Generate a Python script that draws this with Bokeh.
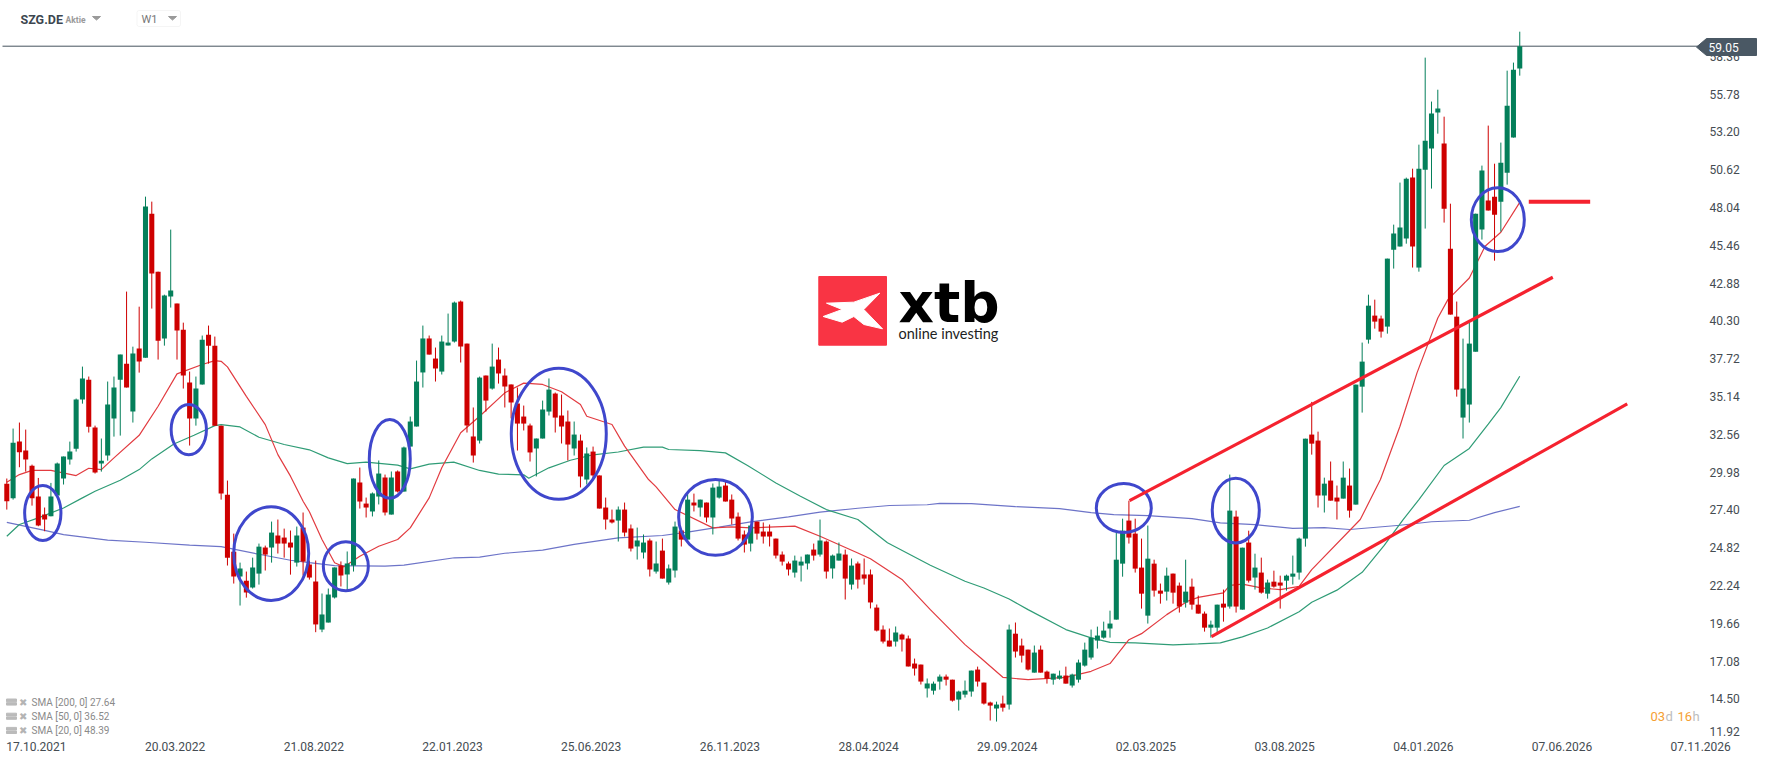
# SZG.DE weekly candles with SMA 20/50/200 and hand drawn chart marks
from bokeh.plotting import figure
from bokeh.core.properties import value
from bokeh.embed import file_html
from bokeh.models import ColumnDataSource, FixedTicker, Label, BoxAnnotation
from bokeh.resources import INLINE
import pandas as pd

# weekly prices
opens = [
    29.19, 28.19, 32.06, 31.45, 30.42, 28.31, 27.08, 26.96, 28.38, 29.54,
    30.83, 31.58, 34.93, 36.29, 33.02, 30.56, 31.11, 33.63, 36.29, 37.38,
    34.11, 38.41, 37.79, 47.62, 43.66, 39.09, 41.96, 41.48, 39.70, 36.09,
    33.63, 35.95, 39.36, 38.61, 33.15, 28.44, 24.55, 22.85, 22.57, 22.10,
    23.05, 24.83, 24.83, 25.65, 25.51, 25.17, 23.80, 26.19, 23.67, 22.51,
    19.23, 19.71, 21.42, 23.60, 22.99, 23.60, 29.27, 27.83, 27.29, 28.31,
    29.61, 27.08, 30.02, 28.65, 31.72, 33.09, 36.78, 39.10, 37.73, 36.84,
    38.62, 38.89, 41.62, 38.75, 32.41, 32.13, 36.57, 35.68, 37.66, 36.57,
    35.96, 34.66, 33.77, 33.16, 31.59, 32.27, 34.11, 35.34, 33.84, 33.43,
    31.59, 32.13, 29.47, 31.38, 29.75, 27.56, 26.74, 26.67, 27.42, 26.13,
    24.90, 24.49, 25.31, 23.19, 24.62, 22.44, 23.26, 25.99, 25.37, 27.90,
    27.56, 27.90, 26.88, 28.24, 29.06, 28.10, 26.94, 25.72, 25.10, 26.60,
    25.92, 25.92, 25.44, 24.35, 23.74, 23.12, 23.60, 23.74, 24.69, 24.35,
    25.24, 23.40, 23.94, 24.35, 22.30, 23.74, 22.99, 22.99, 20.73, 19.23,
    18.48, 18.41, 18.89, 18.62, 16.91, 16.84, 15.21, 15.06, 15.68, 16.02,
    15.81, 14.45, 14.79, 15.00, 16.50, 15.61, 14.25, 13.84, 14.18, 14.11,
    18.95, 18.14, 17.86, 16.29, 17.86, 16.36, 15.81, 15.88, 16.09, 15.41,
    15.81, 16.77, 17.32, 18.48, 18.68, 19.30, 19.91, 23.73, 26.67, 25.78,
    23.46, 20.18, 23.73, 21.89, 21.82, 23.05, 22.23, 21.07, 22.16, 20.93,
    20.32, 19.36, 19.36, 21.00, 20.80, 26.94, 20.59, 25.17, 22.78, 23.12,
    21.68, 22.50, 22.44, 22.57, 22.84, 23.12, 25.44, 32.54, 32.13, 28.38,
    29.40, 28.24, 28.17, 29.06, 27.76, 35.81, 39.02, 40.66, 40.46, 39.91,
    45.16, 45.37, 45.92, 50.08, 43.94, 50.62, 52.06, 54.52, 52.40, 45.23,
    40.59, 33.70, 34.59, 38.20, 46.53, 48.51, 48.78, 48.44, 50.42, 52.81,
    57.52,
]
highs = [
    29.54, 32.95, 33.36, 32.88, 30.49, 29.58, 27.56, 29.24, 30.63, 31.04,
    32.06, 35.00, 37.18, 36.50, 33.15, 32.27, 36.16, 36.50, 38.00, 42.30,
    38.54, 41.27, 48.78, 48.44, 43.66, 42.09, 46.53, 41.48, 40.18, 36.84,
    36.50, 39.30, 39.98, 39.23, 33.15, 29.40, 25.78, 23.80, 23.19, 24.14,
    25.10, 24.96, 26.60, 26.74, 26.12, 25.99, 26.26, 27.22, 23.94, 23.94,
    21.69, 22.03, 23.47, 23.88, 24.56, 29.54, 30.29, 28.24, 28.59, 30.77,
    29.81, 30.02, 30.09, 31.72, 33.77, 37.59, 39.98, 39.30, 38.48, 39.30,
    40.80, 41.62, 41.69, 38.75, 34.39, 36.50, 36.57, 38.75, 38.48, 37.05,
    35.96, 35.75, 34.52, 33.29, 32.27, 34.86, 36.37, 35.41, 35.27, 34.18,
    33.43, 32.54, 31.66, 31.72, 29.75, 28.24, 27.42, 27.63, 27.90, 26.40,
    26.19, 25.72, 25.44, 25.24, 25.44, 23.67, 26.60, 25.99, 28.51, 28.51,
    28.10, 27.90, 29.20, 29.47, 29.33, 28.45, 27.22, 25.99, 26.40, 26.60,
    26.54, 26.40, 25.44, 24.56, 23.87, 24.28, 24.21, 24.35, 25.10, 26.74,
    25.31, 24.35, 25.17, 24.69, 24.08, 23.87, 24.08, 23.33, 20.94, 19.51,
    19.30, 19.44, 18.96, 18.82, 17.25, 16.84, 15.89, 15.68, 16.16, 16.16,
    15.81, 15.06, 15.75, 16.43, 16.70, 15.61, 14.31, 14.31, 14.72, 19.57,
    19.71, 18.61, 17.86, 18.14, 18.14, 16.43, 16.22, 16.43, 16.70, 16.22,
    17.18, 18.34, 19.23, 19.43, 19.77, 20.52, 25.85, 26.80, 28.03, 26.80,
    25.44, 26.33, 24.00, 22.37, 23.46, 23.05, 22.44, 24.00, 22.71, 21.55,
    20.46, 19.84, 20.93, 21.96, 29.81, 27.35, 24.82, 25.98, 24.41, 24.14,
    22.64, 23.25, 22.91, 22.98, 24.28, 25.51, 32.26, 34.77, 32.74, 29.60,
    30.70, 29.06, 30.70, 30.22, 35.95, 38.82, 42.09, 41.75, 40.66, 44.55,
    46.87, 49.74, 50.08, 50.69, 52.33, 58.27, 55.27, 56.08, 54.24, 48.30,
    41.62, 39.09, 40.18, 47.62, 50.90, 53.63, 51.03, 52.47, 57.38, 57.93,
    60.04,
]
lows = [
    27.42, 28.10, 30.31, 30.01, 27.69, 26.28, 25.94, 26.96, 28.38, 29.13,
    30.49, 31.38, 34.65, 32.68, 29.88, 30.01, 30.76, 32.40, 32.47, 35.75,
    33.36, 36.77, 37.79, 41.14, 37.66, 38.61, 41.21, 37.66, 35.68, 31.79,
    33.15, 35.95, 37.38, 33.15, 28.10, 23.60, 22.37, 20.87, 21.41, 22.03,
    22.30, 23.26, 23.80, 24.42, 24.14, 22.98, 23.53, 22.92, 22.64, 19.05,
    19.05, 19.71, 21.35, 22.17, 21.83, 23.19, 27.49, 26.88, 26.95, 27.77,
    27.02, 27.08, 28.59, 28.65, 31.72, 33.09, 35.75, 38.00, 36.16, 36.64,
    38.62, 38.82, 37.46, 32.68, 30.63, 31.93, 34.11, 35.61, 36.02, 34.39,
    33.64, 31.45, 32.82, 30.70, 29.68, 32.27, 33.84, 32.68, 31.93, 30.77,
    31.11, 28.93, 29.13, 29.54, 27.49, 26.06, 26.47, 25.24, 25.58, 24.56,
    24.01, 24.08, 22.85, 23.05, 22.71, 22.30, 22.78, 24.90, 25.37, 27.29,
    26.94, 26.54, 25.72, 28.17, 27.97, 26.40, 25.31, 24.49, 24.56, 25.37,
    25.10, 24.90, 24.08, 23.60, 22.92, 22.78, 22.51, 23.33, 23.94, 24.21,
    22.71, 22.71, 23.94, 21.28, 21.96, 22.03, 22.30, 20.67, 19.10, 18.28,
    18.07, 18.07, 17.73, 16.71, 16.09, 15.48, 14.59, 14.79, 15.13, 15.41,
    14.31, 13.70, 14.59, 14.65, 15.34, 14.11, 13.02, 12.95, 13.63, 13.77,
    17.32, 16.98, 16.43, 16.29, 16.29, 15.54, 15.47, 15.81, 15.54, 15.27,
    15.61, 16.70, 17.18, 17.93, 18.61, 18.68, 19.91, 22.84, 25.10, 23.12,
    20.66, 19.64, 21.48, 21.00, 21.21, 21.00, 20.39, 20.73, 20.59, 20.32,
    19.09, 18.68, 19.02, 19.77, 20.66, 20.39, 20.59, 22.44, 21.96, 21.68,
    21.34, 22.09, 20.66, 21.89, 22.30, 22.64, 24.89, 31.17, 27.56, 27.22,
    28.03, 26.74, 28.17, 26.87, 27.76, 34.04, 38.75, 39.77, 39.16, 39.43,
    43.87, 45.37, 45.57, 43.94, 43.66, 46.60, 49.33, 53.08, 47.01, 40.73,
    35.13, 32.27, 33.36, 38.20, 45.85, 47.83, 44.41, 46.39, 49.60, 52.81,
    57.04,
]
closes = [
    27.99, 31.99, 31.33, 30.83, 28.19, 26.33, 26.74, 28.31, 30.56, 31.04,
    31.38, 34.93, 36.36, 33.08, 29.95, 30.76, 34.59, 35.75, 38.00, 35.75,
    38.07, 37.52, 48.10, 43.53, 38.95, 42.03, 42.37, 39.64, 36.57, 33.63,
    35.68, 39.02, 38.61, 33.15, 28.51, 24.14, 22.85, 23.39, 21.76, 23.46,
    24.89, 24.35, 25.85, 25.10, 25.10, 24.83, 25.65, 23.87, 22.78, 19.58,
    20.26, 21.62, 23.47, 22.92, 23.74, 29.54, 27.97, 27.56, 28.52, 29.88,
    27.22, 29.61, 28.65, 31.66, 33.43, 36.16, 39.10, 38.00, 37.05, 38.89,
    38.82, 41.55, 38.55, 33.16, 31.11, 36.43, 34.86, 37.18, 36.71, 35.82,
    34.73, 33.29, 33.29, 31.32, 32.27, 34.25, 35.61, 33.70, 33.09, 31.86,
    32.54, 29.68, 31.25, 29.75, 27.49, 26.74, 26.54, 27.42, 25.85, 24.76,
    25.31, 25.17, 23.33, 23.74, 22.71, 23.40, 26.26, 25.37, 28.10, 27.70,
    28.10, 26.88, 28.92, 28.99, 27.97, 26.81, 25.44, 25.03, 26.33, 25.78,
    25.58, 25.58, 24.28, 23.87, 23.33, 23.94, 23.87, 24.35, 24.28, 25.31,
    23.19, 24.28, 24.42, 22.71, 23.60, 22.64, 22.71, 21.08, 19.16, 18.41,
    18.07, 19.03, 18.55, 16.71, 16.57, 15.68, 15.55, 15.54, 16.02, 15.81,
    14.38, 15.00, 15.06, 16.43, 15.68, 14.18, 14.04, 14.11, 13.90, 19.23,
    17.73, 17.45, 16.50, 17.66, 16.29, 15.88, 16.22, 16.09, 15.54, 16.16,
    16.98, 17.86, 18.68, 18.82, 19.16, 19.64, 24.00, 25.98, 25.51, 23.39,
    21.68, 24.07, 21.89, 21.68, 22.91, 21.75, 20.80, 21.82, 20.93, 20.32,
    19.36, 19.57, 20.93, 20.73, 27.35, 20.80, 24.82, 22.57, 23.46, 21.75,
    22.44, 22.16, 22.23, 22.91, 23.05, 25.44, 32.26, 31.92, 28.38, 29.19,
    28.03, 27.97, 29.60, 27.35, 35.95, 37.52, 41.34, 40.25, 39.57, 44.55,
    46.26, 46.67, 50.01, 45.37, 50.69, 52.60, 54.45, 54.79, 47.96, 40.73,
    35.61, 35.68, 38.75, 47.62, 50.56, 47.83, 47.55, 51.10, 54.99, 57.45,
    59.05,
]
last_price = 59.05

# moving averages, week number and level
sma20_x = [0, 2, 4, 7, 11, 13, 15, 17, 21, 24, 27, 31, 33, 34, 35, 38, 41, 43, 45, 47, 48, 50, 52, 53.5, 56, 59, 62, 64, 67, 69, 72, 75, 79, 82, 85, 88, 91, 92, 96, 98, 101.8, 103, 106, 112, 115, 118, 125, 129, 135, 137, 142, 144, 146.5, 152, 154.5, 158, 162, 168, 172, 175, 178, 180, 184, 187.3, 189, 193, 194, 196, 199, 202, 205, 207, 214.7, 217.9, 221, 223.7, 227, 228.6, 232, 234.5, 237, 240]
sma20_y = [29.29, 29.81, 30.10, 30.10, 29.74, 30.24, 30.15, 30.95, 32.49, 34.47, 36.68, 37.32, 37.59, 37.54, 37.16, 35.15, 33.22, 31.17, 29.70, 27.99, 27.27, 25.38, 23.79, 23.51, 24.24, 24.92, 25.38, 26.17, 28.22, 30.27, 32.66, 33.79, 35.39, 36.05, 35.96, 35.46, 34.59, 33.79, 33.23, 31.75, 29.47, 28.97, 27.42, 26.17, 26.24, 26.17, 26.29, 25.60, 24.46, 24.06, 22.65, 21.73, 20.59, 18.20, 17.29, 15.97, 15.81, 15.97, 16.38, 16.91, 18.54, 18.95, 20.25, 21.16, 21.43, 21.73, 22.25, 22.33, 22.07, 21.95, 22.18, 23.32, 26.74, 29.47, 33.11, 36.75, 40.50, 41.75, 43.23, 45.39, 46.35, 48.39]
sma50_x = [0, 2, 5, 9, 12, 14, 18, 21, 23, 26.5, 29.7, 33, 34, 37, 40, 44, 48, 51, 54, 57, 62, 64, 67, 70.9, 75, 78, 82, 82.8, 86, 89.4, 93, 97, 101, 104, 105, 110, 114, 117.5, 122, 125.9, 130, 135, 139.7, 146.5, 152, 155, 159, 162, 168, 172, 175, 179, 185, 189, 192.5, 196, 200, 205, 207, 211, 215, 218.5, 221.5, 224, 228, 232, 235, 237, 240]
sma50_y = [25.60, 26.40, 26.85, 27.53, 28.22, 28.67, 29.42, 30.15, 30.88, 31.90, 32.49, 33.15, 33.22, 33.06, 32.36, 31.86, 31.50, 30.95, 30.56, 30.66, 30.45, 30.20, 30.52, 30.66, 30.09, 29.84, 29.79, 29.56, 30.27, 30.79, 31.16, 31.35, 31.68, 31.68, 31.52, 31.45, 31.29, 30.43, 29.24, 28.33, 27.42, 26.74, 25.15, 23.62, 22.53, 22.07, 21.32, 20.59, 19.23, 18.66, 18.36, 18.32, 18.18, 18.25, 18.32, 18.73, 19.34, 20.45, 21.10, 21.92, 23.14, 24.97, 26.73, 28.10, 30.43, 31.59, 33.25, 34.38, 36.52]
sma200_x = [0, 6, 9, 16, 22, 29, 34, 40, 45, 48, 52, 60, 63, 71, 75, 79, 85, 90, 97, 104, 108, 113, 118, 124, 129, 135, 140, 146, 148, 153, 160, 167, 172, 175.6, 181, 188, 192.5, 198, 204, 209, 213, 221, 226, 232, 236, 240]
sma200_y = [26.55, 26.00, 25.71, 25.33, 25.19, 24.99, 24.89, 24.37, 23.96, 23.80, 23.60, 23.56, 23.63, 24.13, 24.17, 24.44, 24.65, 25.04, 25.49, 25.65, 25.88, 26.22, 26.58, 26.92, 27.24, 27.51, 27.70, 27.75, 27.85, 27.83, 27.62, 27.49, 27.21, 27.08, 27.01, 26.80, 26.51, 26.39, 26.14, 26.19, 26.06, 26.35, 26.59, 26.69, 27.21, 27.64]

# drawn marks on the chart
ring_x = [5.71, 28.87, 41.94, 53.78, 60.75, 87.56, 112.42, 177.19, 194.95, 236.52]
ring_y = [27.19, 32.88, 24.42, 23.55, 30.88, 32.59, 26.89, 27.53, 27.35, 47.21]
ring_w = [5.76, 5.60, 11.90, 7.14, 6.50, 15.07, 11.69, 8.72, 7.46, 8.41]
ring_h = [3.75, 3.43, 6.40, 3.34, 5.39, 8.94, 5.19, 3.34, 4.42, 4.35]
upper_trend_x, upper_trend_y = [178.1, 245.24], [28.03, 43.28]
lower_trend_x, lower_trend_y = [191.1, 257.05], [18.75, 34.63]
target_x, target_y = [241.43, 251.17], [48.44, 48.44]

# axis labels
date_ticks = [4.7, 26.7, 48.7, 70.7, 92.7, 114.7, 136.7, 158.7, 180.7, 202.7, 224.7, 246.7, 268.7]
date_labels = ["17.10.2021", "20.03.2022", "21.08.2022", "22.01.2023", "25.06.2023", "26.11.2023", "28.04.2024",
               "29.09.2024", "02.03.2025", "03.08.2025", "04.01.2026", "07.06.2026", "07.11.2026"]
price_ticks = [58.36, 55.78, 53.20, 50.62, 48.04, 45.46, 42.88, 40.30, 37.72, 35.14, 32.56, 29.98, 27.40, 24.82,
               22.24, 19.66, 17.08, 14.50, 12.27]
price_labels = ["58.36", "55.78", "53.20", "50.62", "48.04", "45.46", "42.88", "40.30", "37.72", "35.14", "32.56",
                "29.98", "27.40", "24.82", "22.24", "19.66", "17.08", "14.50", "11.92"]
sma_labels = ["SMA [200, 0] 27.64", "SMA [50, 0] 36.52", "SMA [20, 0] 48.39"]

GREEN = "#047F5A"
RED = "#CE0000"


# header, legend and logo sit at fixed places on the page
def fx(px):
    return (px - 6.3) / 6.304


def fy(px):
    return 59.05 - (px - 45.7) / 14.65


df = pd.DataFrame({"open": opens, "high": highs, "low": lows, "close": closes})
df["week"] = df.index
df["top"] = df[["open", "close"]].max(axis=1)
df["bottom"] = df[["open", "close"]].min(axis=1)
df["color"] = [GREEN if c > o else RED for o, c in zip(opens, closes)]
source = ColumnDataSource(df)

p = figure(
    width=1768,
    height=761,
    x_range=(fx(0), fx(1768)),
    y_range=(fy(761), fy(0)),
    y_axis_location="right",
    output_backend="svg",
    toolbar_location=None,
    min_border=0,
    outline_line_color=None,
    margin=(0, 0, 0, 0),
)
p.grid.visible = False

# axes sit inside the frame, like on the platform
p.xaxis.fixed_location = fy(733.5)
p.yaxis.fixed_location = fx(1701)
p.xaxis.ticker = FixedTicker(ticks=date_ticks)
p.xaxis.major_label_overrides = dict(zip(date_ticks, date_labels))
p.yaxis.ticker = FixedTicker(ticks=price_ticks)
p.yaxis.major_label_overrides = dict(zip(price_ticks, price_labels))
for axis in (p.xaxis, p.yaxis):
    axis.axis_line_color = None
    axis.major_tick_line_color = None
    axis.minor_tick_line_color = None
    axis.major_label_text_font = "Roboto"
    axis.major_label_text_font_size = "12px"
    axis.major_label_text_color = "#454C52"
p.xaxis.major_label_standoff = 2
p.yaxis.major_label_standoff = 2

# averages go under the candles
p.line(sma200_x, sma200_y, color="#6D74C8", line_width=1.2)
p.line(sma50_x, sma50_y, color="#2F9C76", line_width=1.2)
p.line(sma20_x, sma20_y, color="#E23B40", line_width=1.2)

p.line([fx(2), fx(1700)], [last_price, last_price], color="#46535E", line_width=1)

p.segment("week", "high", "week", "low", color="color", line_width=1, source=source)
p.vbar(x="week", top="top", bottom="bottom", width=0.8, fill_color="color", line_color=None, source=source)

# blue rings and red trend lines
p.ellipse(ring_x, ring_y, width=ring_w, height=ring_h, fill_color=None, line_color="#3F47CC", line_width=3)
p.line(upper_trend_x, upper_trend_y, color="#F5222F", line_width=3.2)
p.line(lower_trend_x, lower_trend_y, color="#F5222F", line_width=3.2)
p.line(target_x, target_y, color="#F5222F", line_width=4)

# price tag
p.patch([fx(1696), fx(1706), fx(1756), fx(1756), fx(1706)], [fy(46.6), fy(38), fy(38), fy(55), fy(55)],
        color="#4A5864", level="overlay")
p.add_layout(Label(x=fx(1708), y=fy(47), text="59.05", text_font="Roboto", text_font_size="12px",
                   text_color="#FFFFFF", text_baseline="middle", level="overlay"))


def add_text(px, py, text, size, color, style="normal", font="Roboto"):
    p.add_layout(Label(x=fx(px), y=fy(py), text=text, text_font=font, text_font_size=size, text_color=color,
                       text_font_style=style, text_baseline="middle"))


# header
add_text(20, 19, "SZG.DE", "12.5px", "#3C4650", "bold")
add_text(65, 19.5, "Aktie", "8.5px", "#9A9A9A", "bold")
p.patch([fx(92), fx(100), fx(96)], [fy(16), fy(16), fy(19.5)], color="#9A9A9A")
p.add_layout(BoxAnnotation(left=fx(136.5), right=fx(180), top=fy(10), bottom=fy(26), fill_alpha=0,
                           line_color="#DDDDDD", line_width=1, border_radius=2))
add_text(141, 19, "W1", "11px", "#777777")
p.patch([fx(168), fx(176), fx(172)], [fy(16), fy(16), fy(19.5)], color="#9A9A9A")

# indicator list
for i, label in enumerate(sma_labels):
    y = 702 + i * 14.2
    p.quad(left=fx(6), right=fx(16), top=fy(y - 3.5), bottom=fy(y - 0.8), color="#BBBBBB")
    p.quad(left=fx(6), right=fx(16), top=fy(y + 0.2), bottom=fy(y + 2.6), color="#BBBBBB")
    add_text(18.5, y, "\u2716", "10px", "#B4B4B4", font="DejaVu Sans")
    add_text(31, y, label, "10px", "#8A8A8A")

# time left on the candle
add_text(1650, 716, "03", "13px", "#F5A033")
add_text(1665, 716, "d", "13px", "#BDBDBD")
add_text(1677, 716, "16", "13px", "#F5A033")
add_text(1692, 716, "h", "13px", "#BDBDBD")

# logo
p.quad(left=fx(818.3), right=fx(886), top=fy(276), bottom=fy(344.7), color="#F93444")
logo_xs = [78, 160, 238, 190, 246, 190, 160, 125, 68, 125]
logo_ys = [128, 125, 98, 147, 205, 192, 168, 185, 168, 147]
p.patch([fx(800 + v / 3) for v in logo_xs], [fy(260 + v / 3) for v in logo_ys], color="#FFFFFF")
add_text(898, 302, "xtb", "55px", "#000000", "bold", "DejaVu Sans")
add_text(898, 333, "online investing", "14.5px", "#222222", font="Lato")

open("out.html", "w").write(file_html(p, INLINE))
